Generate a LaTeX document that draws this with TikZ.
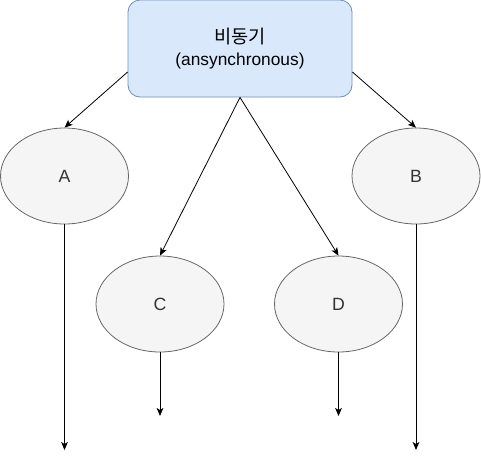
\documentclass[tikz,border=0pt]{standalone}
\usepackage{fontspec}
\setmainfont{Liberation Sans}
\newfontfamily\krfont{Noto Sans CJK KR}
\usepackage{tikz}
\usetikzlibrary{calc}
\usetikzlibrary{shapes.geometric,arrows.meta}
\definecolor{boxfill}{HTML}{DAE8FC}
\definecolor{boxline}{HTML}{6C8EBF}
\definecolor{ovalfill}{HTML}{F5F5F5}
\definecolor{ovalline}{HTML}{666666}
\definecolor{ovaltext}{HTML}{333333}

\begin{document}
\begin{tikzpicture}[x=0.75pt,y=-0.75pt,
                        >={Stealth[length=6pt,width=5pt,inset=1.5pt]},
                        syncbox/.style={draw=boxline,fill=boxfill,rounded corners=9pt,line width=0.6pt,
                        minimum width=168pt,minimum height=72.75pt,inner sep=0pt,align=center,font=\fontsize{13}{17}\selectfont},
                        task/.style={ellipse,draw=ovalline,fill=ovalfill,line width=0.6pt,text=ovaltext,
                        minimum width=96pt,minimum height=72pt,inner sep=0pt,font=\fontsize{13.3}{15}\selectfont},
                        flow/.style={->,line width=0.6pt}
                        ]
                        \useasboundingbox (0,0) rectangle (481,455);
                        % main box
                        \node[syncbox] (async) at (240,48.5) {{\krfont\fontsize{14}{17}\selectfont 비동기}\\(ansynchronous)};
                        % tasks
                        \node[task] (A) at (64.5,176) {A};
                        \node[task] (B) at (416,176) {B};
                        \node[task] (C) at (160,304) {C};
                        \node[task] (D) at (338.5,304) {D};
                        \coordinate (aend) at (64.5,450);
                        \coordinate (bend) at (416,450);
                        \coordinate (cend) at (160,416);
                        \coordinate (dend) at (338.5,416);

                        \draw[flow] (async.west |- 0,72) -- (A.north);
                        \draw[flow] (async.east |- 0,72) -- (B.north);
                        \draw[flow] (async.south) -- (C.north);
                        \draw[flow] (async.south) -- (D.north);

                        \draw[flow] (A.south) -- (aend);
                        \draw[flow] (B.south) -- (bend);
                        \draw[flow] (C.south) -- (cend);
                        \draw[flow] (D.south) -- (dend);
                \end{tikzpicture}
\end{document}
